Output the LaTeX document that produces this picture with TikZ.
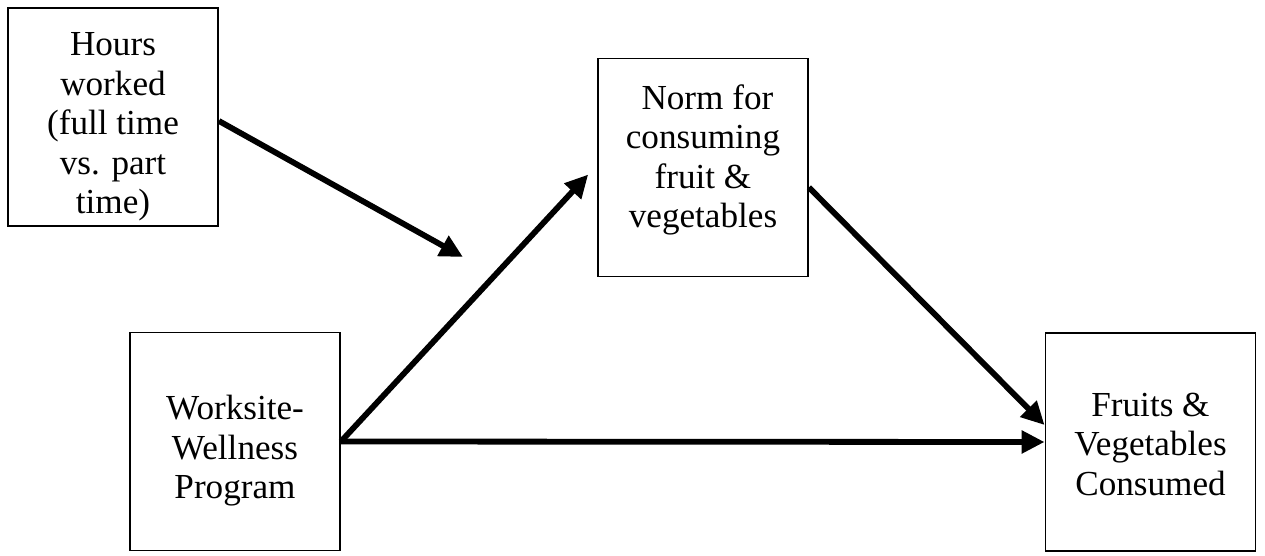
\documentclass[tikz,border=0pt]{standalone}
\usepackage{fontspec}
\setmainfont{Liberation Serif}
\usetikzlibrary{arrows.meta, positioning, calc}
% lines of a box, moved up or down without moving the box
\newcommand{\boxtext}[2]{\raisebox{#1}[\height][\depth]{%
  \begin{tabular}{@{}c@{}}#2\end{tabular}}}
\tikzset{
  var/.style  = {rectangle, draw=black, line width=1.1pt,
                 align=center, font=\fontsize{20}{22.5}\selectfont,
                 minimum width=4.2cm, minimum height=4.36cm},
  path/.style = {line width=3.3pt, -{Triangle[length=0.46cm, width=0.44cm]}}
}
\begin{document}
\begin{tikzpicture}
\useasboundingbox (0,0) rectangle (25.3,11.1);

% ── Variables ───────────────────────────────────────────────────────────────
\node[var] (hours) at (2.26, 8.76)
  {\boxtext{-0.2cm}{Hours\\worked\\(full time\\vs. part\\time)}};
\node[var] (norm)  at (14.06, 7.75)
  {\boxtext{0.14cm}{\ Norm for\\consuming\\fruit \&\\vegetables}};
\node[var] (wsp)   at (4.70, 2.27)
  {\boxtext{-0.2cm}{Worksite-\\Wellness\\Program}};
\node[var] (fv)    at (23.01, 2.26)
  {\boxtext{-0.12cm}{Fruits \&\\Vegetables\\Consumed}};

% ── Moderator points at the a-path ─────────────────────────────────────────
\coordinate (mod) at (9.26, 5.96);
\draw[path] ([yshift=-0.08cm]hours.east) -- (mod);

% ── Mediation paths ─────────────────────────────────────────────────────────
\draw[path, shorten >=0.26cm] (wsp.east) -- ([yshift=0.05cm]norm.west);
\draw[path] ([yshift=-0.4cm]norm.east) -- ([yshift=0.34cm]fv.west);
\draw[path] (wsp.east) -- (fv.west);

\end{tikzpicture}
\end{document}
